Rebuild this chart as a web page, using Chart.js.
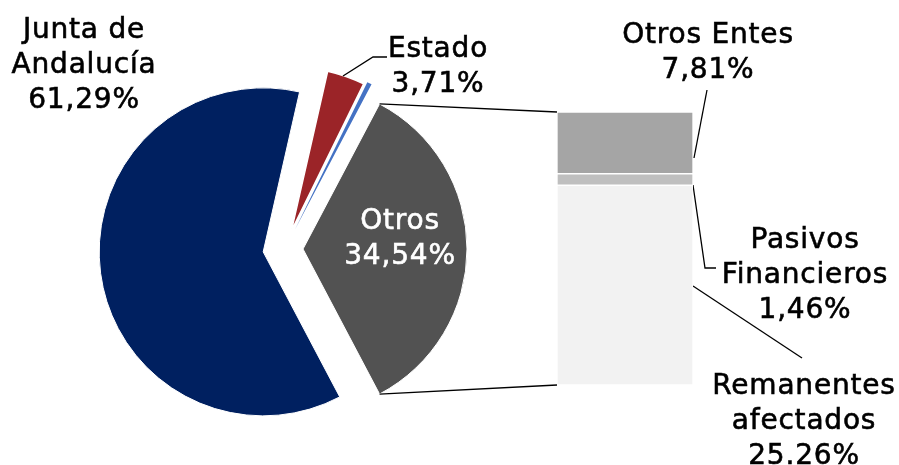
<!DOCTYPE html>
<html>
<head>
<title>Ingresos por origen</title>
<style>
    body { margin: 0; background: #ffffff; }
    #wrap { position: relative; width: 899px; height: 465px; }
    #pieCanvas { position: absolute; left: 0; top: 0; }
    #barCanvas { position: absolute; left: 557px; top: 112px; }
</style>
<script src="https://cdn.jsdelivr.net/npm/chart.js"></script>
</head>
<body>
<div id="wrap">
    <canvas id="pieCanvas" width="899" height="465"></canvas>
    <canvas id="barCanvas" width="136" height="273"></canvas>
</div>
<script>
// pie data (clockwise from the exploded "Otros" slice)
const pieLabels = ['Otros', 'Junta de Andalucía', 'Estado', 'Resto'];
const pieValues = [34.54, 61.29, 3.71, 0.46];
const pieColors = ['#525252', '#002060', '#9b2428', '#4472c4'];
const pieExplode = [18, 22, 19, 22];
const pieBorders = [1, 1, 1.5, 0];

// breakdown of "Otros" (bottom to top in the bar)
const barLabels = ['Remanentes afectados', 'Pasivos Financieros', 'Otros Entes'];
const barValues = [25.26, 1.46, 7.81];
const barColors = ['#f2f2f2', '#bfbfbf', '#a5a5a5'];
const barPctText = ['25.26%', '1,46%', '7,81%'];

const FONT = '28px "DejaVu Sans"';
const LINE_H = 35;
const BAR_LEFT = 557, BAR_TOP = 112;

function pct(v) { return v.toFixed(2).replace('.', ',') + '%'; }

// bar of pie
const barChart = new Chart(document.getElementById('barCanvas'), {
    type: 'bar',
    data: {
        labels: ['Otros'],
        datasets: barValues.map((v, i) => ({
            label: barLabels[i],
            data: [v],
            backgroundColor: barColors[i],
            borderColor: '#ffffff',
            borderWidth: 1,
            borderSkipped: false,
            barPercentage: 1,
            categoryPercentage: 1
        }))
    },
    options: {
        responsive: false,
        animation: false,
        events: [],
        layout: { padding: 0 },
        plugins: { legend: { display: false }, tooltip: { enabled: false } },
        scales: {
            x: { display: false, stacked: true },
            y: { display: false, stacked: true, min: 0, max: barValues.reduce((a, b) => a + b, 0) }
        }
    }
});

// move each slice out along its own middle angle
const explodePlugin = {
    id: 'explode',
    afterDatasetUpdate(chart, args) {
        const meta = chart.getDatasetMeta(args.index);
        meta.data.forEach((arc, i) => {
            const mid = (arc.startAngle + arc.endAngle) / 2;
            arc.x += Math.cos(mid) * pieExplode[i];
            arc.y += Math.sin(mid) * pieExplode[i];
        });
    }
};

function drawLines(ctx, pts) {
    ctx.beginPath();
    ctx.moveTo(pts[0][0], pts[0][1]);
    for (let i = 1; i < pts.length; i++) ctx.lineTo(pts[i][0], pts[i][1]);
    ctx.stroke();
}

function drawText(ctx, lines, x, y, color) {
    ctx.fillStyle = color;
    ctx.strokeStyle = color;
    ctx.lineWidth = 0.6;
    lines.forEach((t, i) => {
        ctx.fillText(t, x, y + i * LINE_H);
        ctx.strokeText(t, x, y + i * LINE_H);
    });
}

const labelPlugin = {
    id: 'labels',
    afterDraw(chart) {
        const ctx = chart.ctx;
        const arcs = chart.getDatasetMeta(0).data;
        ctx.save();
        ctx.strokeStyle = '#000000';
        ctx.lineWidth = 1.3;

        // series lines from the Otros slice to the bar
        const o = arcs[0];
        const ba = barChart.chartArea;
        drawLines(ctx, [[o.x + Math.cos(o.startAngle) * o.outerRadius, o.y + Math.sin(o.startAngle) * o.outerRadius],
                        [BAR_LEFT + ba.left, BAR_TOP + ba.top]]);
        drawLines(ctx, [[o.x + Math.cos(o.endAngle) * o.outerRadius, o.y + Math.sin(o.endAngle) * o.outerRadius],
                        [BAR_LEFT + ba.left, BAR_TOP + ba.bottom]]);

        // leader lines
        drawLines(ctx, [[343, 76], [373, 57], [387, 57]]);
        drawLines(ctx, [[694, 158], [707, 90]]);
        drawLines(ctx, [[693, 185], [705, 268], [716, 268]]);
        drawLines(ctx, [[693, 286], [802, 358]]);

        ctx.font = FONT;
        ctx.letterSpacing = '0.8px';
        ctx.textAlign = 'center';
        ctx.textBaseline = 'middle';
        drawText(ctx, ['Junta de', 'Andalucía', pct(pieValues[1])], 84, 31, '#000000');
        drawText(ctx, [pieLabels[2], pct(pieValues[2])], 438, 50, '#000000');
        drawText(ctx, [pieLabels[0], pct(pieValues[0])], 400, 222, '#ffffff');
        drawText(ctx, [barLabels[2], barPctText[2]], 708, 36, '#000000');
        drawText(ctx, ['Pasivos', 'Financieros', barPctText[1]], 805, 241, '#000000');
        drawText(ctx, ['Remanentes', 'afectados', barPctText[0]], 804, 387, '#000000');
        ctx.restore();
    }
};

new Chart(document.getElementById('pieCanvas'), {
    type: 'pie',
    data: {
        labels: pieLabels,
        datasets: [{
            data: pieValues,
            backgroundColor: pieColors,
            borderColor: '#ffffff',
            borderWidth: pieBorders
        }]
    },
    options: {
        responsive: false,
        animation: false,
        events: [],
        rotation: 90 - pieValues[0] * 3.6 / 2,
        radius: 164,
        layout: { padding: { left: 0, right: 329, top: 33, bottom: 0 } },
        plugins: { legend: { display: false }, tooltip: { enabled: false } }
    },
    plugins: [explodePlugin, labelPlugin]
});
</script>
</body>
</html>
